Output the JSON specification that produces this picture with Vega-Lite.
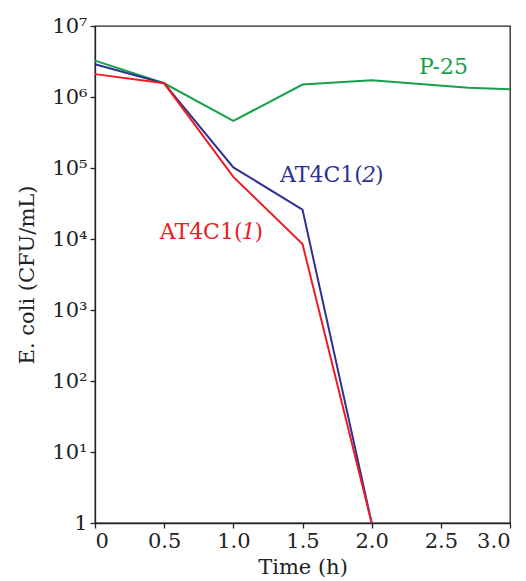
{
  "$schema": "https://vega.github.io/schema/vega-lite/v6.json",
  "autosize": {"type": "none"},
  "width": 415,
  "height": 497,
  "padding": {"left": 95, "top": 26, "right": 16, "bottom": 58},
  "background": "white",
  "config": {
    "font": "DejaVu Serif",
    "view": {"stroke": "#222", "strokeWidth": 1.3},
    "axis": {
      "labelFont": "DejaVu Serif",
      "titleFont": "DejaVu Serif",
      "labelFontSize": 21,
      "titleFontSize": 21,
      "labelColor": "#222",
      "titleColor": "#222",
      "titleFontWeight": "normal",
      "domainColor": "#222",
      "domainWidth": 1.3,
      "tickColor": "#222",
      "tickWidth": 1.3,
      "tickSize": 5,
      "grid": false
    }
  },
  "datasets": {
    "curves": [
      {"series": "P-25", "time": 0, "cfu": 3250000},
      {"series": "P-25", "time": 0.5, "cfu": 1560000},
      {"series": "P-25", "time": 1.0, "cfu": 460000},
      {"series": "P-25", "time": 1.5, "cfu": 1500000},
      {"series": "P-25", "time": 2.0, "cfu": 1720000},
      {"series": "P-25", "time": 2.7, "cfu": 1350000},
      {"series": "P-25", "time": 3.0, "cfu": 1290000},
      {"series": "AT4C1(2)", "time": 0, "cfu": 2900000},
      {"series": "AT4C1(2)", "time": 0.5, "cfu": 1560000},
      {"series": "AT4C1(2)", "time": 1.0, "cfu": 102000},
      {"series": "AT4C1(2)", "time": 1.5, "cfu": 26000},
      {"series": "AT4C1(2)", "time": 2.0, "cfu": 1},
      {"series": "AT4C1(1)", "time": 0, "cfu": 2100000},
      {"series": "AT4C1(1)", "time": 0.5, "cfu": 1560000},
      {"series": "AT4C1(1)", "time": 1.0, "cfu": 75000},
      {"series": "AT4C1(1)", "time": 1.5, "cfu": 8500},
      {"series": "AT4C1(1)", "time": 2.0, "cfu": 1}
    ],
    "labels": [
      {"series": "P-25", "time": 2.74, "cfu": 2650000, "pre": "P-25", "num": "", "post": ""},
      {"series": "AT4C1(2)", "time": 1.98, "cfu": 79000, "pre": "AT4C1(", "num": "2", "post": ")"},
      {"series": "AT4C1(1)", "time": 1.11, "cfu": 12600, "pre": "AT4C1(", "num": "1", "post": ")"}
    ]
  },
  "encoding": {
    "x": {
      "field": "time", "type": "quantitative",
      "scale": {"domain": [0, 3], "nice": false},
      "axis": {
        "title": "Time (h)",
        "values": [0, 0.5, 1, 1.5, 2, 2.5, 3],
        "labelExpr": "datum.value == 0 ? '0' : format(datum.value, '.1f')",
        "labelPadding": 2,
        "titlePadding": 5
      }
    },
    "y": {
      "field": "cfu", "type": "quantitative",
      "scale": {"type": "log", "domain": [1, 10000000], "nice": false},
      "axis": {
        "title": "E. coli (CFU/mL)",
        "values": [1, 10, 100, 1000, 10000, 100000, 1000000, 10000000],
        "labelExpr": "datum.value == 1 ? '1' : '10' + ['','¹','²','³','⁴','⁵','⁶','⁷'][round(log(datum.value)/LN10)]",
        "labelPadding": 3,
        "titlePadding": 14
      }
    },
    "color": {
      "field": "series", "type": "nominal",
      "scale": {"domain": ["P-25", "AT4C1(2)", "AT4C1(1)"], "range": ["#17a04a", "#2e3192", "#ed1c24"]},
      "legend": null
    }
  },
  "layer": [
    {
      "data": {"name": "curves"},
      "mark": {"type": "line", "strokeWidth": 2},
      "encoding": {"detail": {"field": "series"}}
    },
    {
      "data": {"name": "labels"},
      "mark": {"type": "text", "align": "right", "baseline": "middle", "dx": -6, "fontSize": 22, "font": "DejaVu Serif"},
      "encoding": {"text": {"field": "pre"}}
    },
    {
      "data": {"name": "labels"},
      "mark": {"type": "text", "align": "center", "baseline": "middle", "fontSize": 22, "font": "DejaVu Serif", "fontStyle": "italic"},
      "encoding": {"text": {"field": "num"}}
    },
    {
      "data": {"name": "labels"},
      "mark": {"type": "text", "align": "left", "baseline": "middle", "dx": 6, "fontSize": 22, "font": "DejaVu Serif"},
      "encoding": {"text": {"field": "post"}}
    }
  ]
}
